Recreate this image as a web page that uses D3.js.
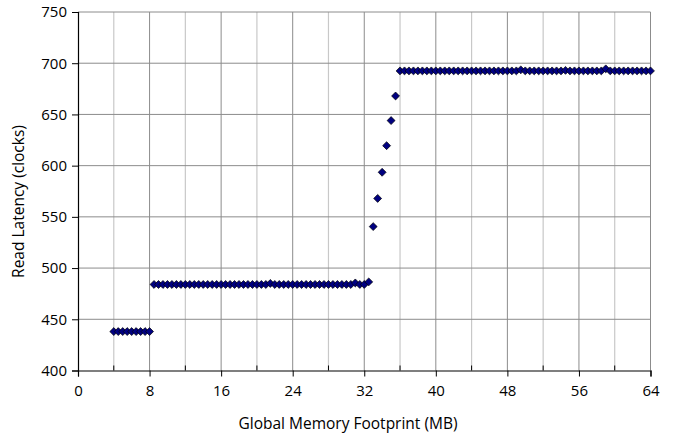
<!DOCTYPE html>
<html>
<head>
<meta charset="utf-8">
<script src="https://cdn.jsdelivr.net/npm/d3@7/dist/d3.min.js"></script>
<style>
  html, body { margin: 0; padding: 0; background: #fff; }
  svg text { font-family: "Open Sans", "Noto Sans", sans-serif; fill: #000; }
</style>
</head>
<body>
<svg id="chart" width="675" height="439"></svg>
<script>
// Global memory footprint (MB) for each measurement
const footprintMB = [
  4, 4.5, 5, 5.5, 6, 6.5, 7, 7.5, 8,
  8.5, 9, 9.5, 10, 10.5, 11, 11.5, 12, 12.5, 13, 13.5, 14, 14.5, 15, 15.5, 16,
  16.5, 17, 17.5, 18, 18.5, 19, 19.5, 20, 20.5, 21, 21.5, 22, 22.5, 23, 23.5, 24,
  24.5, 25, 25.5, 26, 26.5, 27, 27.5, 28, 28.5, 29, 29.5, 30, 30.5, 31, 31.5, 32,
  32.5, 33, 33.5, 34, 34.5, 35, 35.5,
  36, 36.5, 37, 37.5, 38, 38.5, 39, 39.5, 40, 40.5, 41, 41.5, 42, 42.5, 43, 43.5, 44,
  44.5, 45, 45.5, 46, 46.5, 47, 47.5, 48, 48.5, 49, 49.5, 50, 50.5, 51, 51.5, 52,
  52.5, 53, 53.5, 54, 54.5, 55, 55.5, 56, 56.5, 57, 57.5, 58, 58.5, 59, 59.5, 60,
  60.5, 61, 61.5, 62, 62.5, 63, 63.5, 64
];

// Measured read latency (clocks)
const readLatency = [
  438, 438, 438, 438, 438, 438, 438, 438, 438,
  484, 484, 484, 484, 484, 484, 484, 484, 484, 484, 484, 484, 484, 484, 484, 484,
  484, 484, 484, 484, 484, 484, 484, 484, 484, 484, 485, 484, 484, 484, 484, 484,
  484, 484, 484, 484, 484, 484, 484, 484, 484, 484, 484, 484, 484, 485.5, 484, 484,
  486.5, 540.5, 568, 593.5, 619.5, 644, 668,
  692.5, 692.5, 692.5, 692.5, 692.5, 692.5, 692.5, 692.5, 692.5, 692.5, 692.5, 692.5, 692.5, 692.5, 692.5, 692.5, 692.5,
  692.5, 692.5, 692.5, 692.5, 692.5, 692.5, 692.5, 692.5, 692.5, 692.5, 693.5, 692.5, 692.5, 692.5, 692.5, 692.5,
  692.5, 692.5, 692.5, 692.5, 693, 692.5, 692.5, 692.5, 692.5, 692.5, 692.5, 692.5, 692.5, 694.5, 692.5, 692.5,
  692.5, 692.5, 692.5, 692.5, 692.5, 692.5, 692.5, 692.5
];

const xMajorTicks = [0, 8, 16, 24, 32, 40, 48, 56, 64];
const xMinorTicks = [4, 12, 20, 28, 36, 44, 52, 60];
const yTicks = [400, 450, 500, 550, 600, 650, 700, 750];

const xTitle = "Global Memory Footprint (MB)";
const yTitle = "Read Latency (clocks)";

const points = footprintMB.map((x, i) => ({ x, y: readLatency[i] }));

const svg = d3.select("#chart");
const plot = { left: 78, right: 650.5, top: 12, bottom: 370.5 };

const x = d3.scaleLinear().domain([0, 64]).range([plot.left, plot.right]);
const y = d3.scaleLinear().domain([400, 750]).range([plot.bottom, plot.top]);

// Minor vertical gridlines
svg.append("g")
  .selectAll("line")
  .data(xMinorTicks)
  .join("line")
  .attr("x1", d => x(d)).attr("x2", d => x(d))
  .attr("y1", plot.top).attr("y2", plot.bottom)
  .attr("stroke", "#c8c8c8").attr("stroke-width", 1.2);

// Major vertical gridlines
svg.append("g")
  .selectAll("line")
  .data(xMajorTicks.slice(1))
  .join("line")
  .attr("x1", d => x(d)).attr("x2", d => x(d))
  .attr("y1", plot.top).attr("y2", plot.bottom)
  .attr("stroke", "#8c8c8c").attr("stroke-width", 1);

// Horizontal gridlines
svg.append("g")
  .selectAll("line")
  .data(yTicks.slice(1))
  .join("line")
  .attr("x1", plot.left).attr("x2", plot.right)
  .attr("y1", d => y(d)).attr("y2", d => y(d))
  .attr("stroke", "#8c8c8c").attr("stroke-width", 1);

// X axis: major ticks outside, minor ticks inside
const xAxis = svg.append("g")
  .attr("transform", `translate(0,${plot.bottom})`)
  .call(d3.axisBottom(x).tickValues(xMajorTicks).tickSize(6).tickPadding(9).tickFormat(d3.format("d")));
xAxis.append("g")
  .selectAll("line")
  .data(xMinorTicks)
  .join("line")
  .attr("x1", d => x(d)).attr("x2", d => x(d))
  .attr("y1", 0).attr("y2", -5)
  .attr("stroke", "#000");

// Y axis
const yAxis = svg.append("g")
  .attr("transform", `translate(${plot.left},0)`)
  .call(d3.axisLeft(y).tickValues(yTicks).tickSize(6).tickPadding(5).tickFormat(d3.format("d")));

[xAxis, yAxis].forEach(g => {
  g.select(".domain").attr("stroke", "#000").attr("stroke-width", 1.2);
  g.selectAll(".tick line").attr("stroke", "#000");
  g.selectAll(".tick text").style("font-size", "15px").attr("fill", "#000")
    .style("font-family", "'Open Sans', 'Noto Sans', sans-serif");
});

// Data markers: diamonds
const diamond = d3.symbol().type(d3.symbolDiamond2).size(40);
svg.append("g")
  .selectAll("path")
  .data(points)
  .join("path")
  .attr("d", diamond)
  .attr("transform", d => `translate(${x(d.x)},${y(d.y)})`)
  .attr("fill", "#000080")
  .attr("stroke", "#000")
  .attr("stroke-width", 0.7);

// Axis titles
svg.append("text")
  .attr("x", 348)
  .attr("y", 429)
  .attr("text-anchor", "middle")
  .style("font-size", "15.5px")
  .text(xTitle);

svg.append("text")
  .attr("transform", `translate(24,201.5) rotate(-90)`)
  .attr("text-anchor", "middle")
  .style("font-size", "15.5px")
  .text(yTitle);
</script>
</body>
</html>
